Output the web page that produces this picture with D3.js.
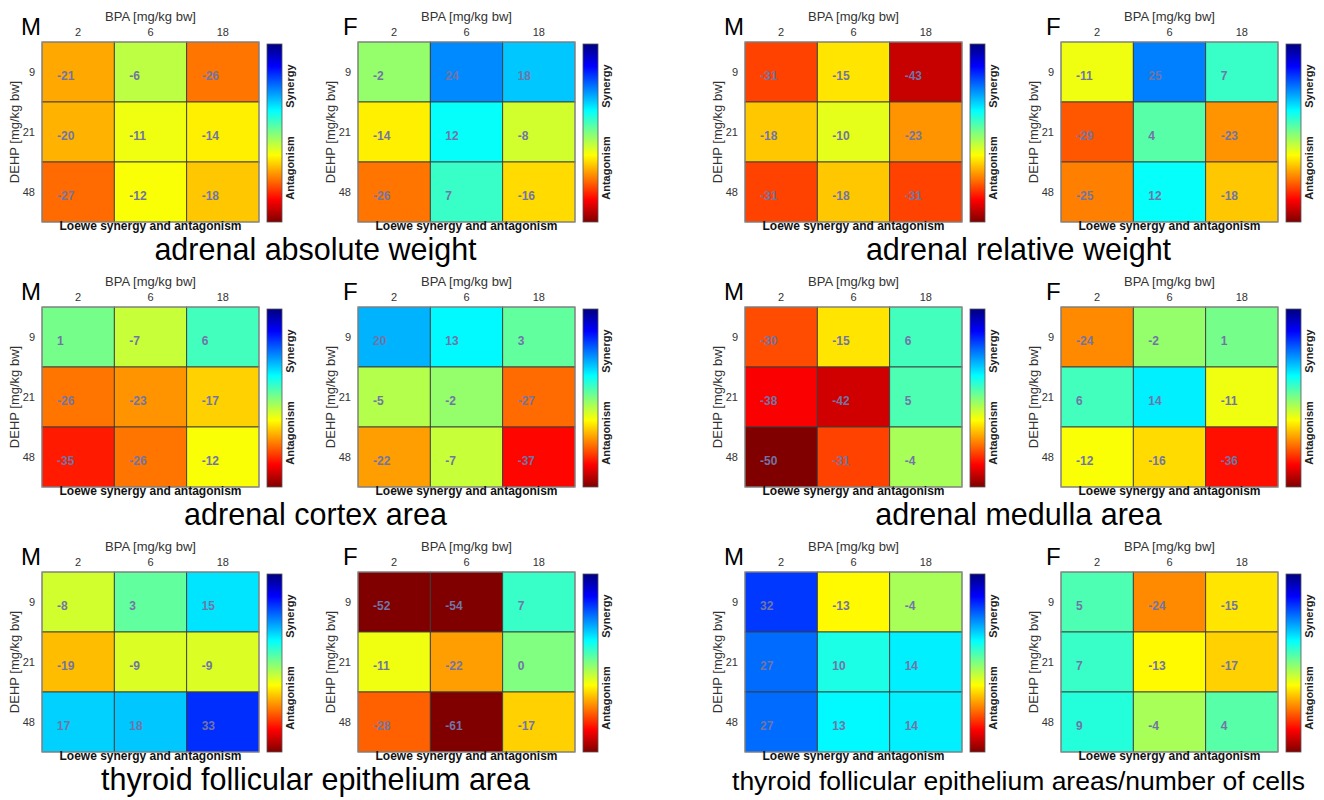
<!DOCTYPE html>
<html><head><meta charset="utf-8">
<script src="https://cdn.jsdelivr.net/npm/d3@7"></script>
<style>
body{margin:0;background:#fff}
svg{display:block;font-family:"Liberation Sans",Arial,Helvetica,sans-serif}
</style>
</head><body><svg id="c" width="1324" height="800"></svg>
<script>
// ---------- data ----------
const bpaDoses = ["2", "6", "18"];        // columns, BPA [mg/kg bw]
const dehpDoses = ["9", "21", "48"];      // rows, DEHP [mg/kg bw]
const sexes = ["M", "F"];
const panelTitles = [
  "adrenal absolute weight",
  "adrenal relative weight",
  "adrenal cortex area",
  "adrenal medulla area",
  "thyroid follicular epithelium area",
  "thyroid follicular epithelium areas/number of cells"
];
const adrenalAbsM = [[-21, -6, -26], [-20, -11, -14], [-27, -12, -18]];
const adrenalAbsF = [[-2, 24, 18], [-14, 12, -8], [-26, 7, -16]];
const adrenalRelM = [[-31, -15, -43], [-18, -10, -23], [-31, -18, -31]];
const adrenalRelF = [[-11, 25, 7], [-29, 4, -23], [-25, 12, -18]];
const cortexM = [[1, -7, 6], [-26, -23, -17], [-35, -26, -12]];
const cortexF = [[20, 13, 3], [-5, -2, -27], [-22, -7, -37]];
const medullaM = [[-30, -15, 6], [-38, -42, 5], [-50, -31, -4]];
const medullaF = [[-24, -2, 1], [6, 14, -11], [-12, -16, -36]];
const thyroidAreaM = [[-8, 3, 15], [-19, -9, -9], [17, 18, 33]];
const thyroidAreaF = [[-52, -54, 7], [-11, -22, 0], [-28, -61, -17]];
const thyroidCellsM = [[32, -13, -4], [27, 10, 14], [27, 13, 14]];
const thyroidCellsF = [[5, -24, -15], [7, -13, -17], [9, -4, 4]];
const colorDomain = [50, -50]; // synergy (blue) .. antagonism (dark red)

const panelValues = [
  [adrenalAbsM, adrenalAbsF],
  [adrenalRelM, adrenalRelF],
  [cortexM, cortexF],
  [medullaM, medullaF],
  [thyroidAreaM, thyroidAreaF],
  [thyroidCellsM, thyroidCellsF]
];

// ---------- layout ----------
const pairLeft = [42, 745];
const rowTop = [42, 307, 572];
const fOffset = 316;
const W = 217, H = 180;

function clamp01(x) { return Math.max(0, Math.min(1, x)); }
function jet(u) {
  const r = clamp01(Math.min(4 * u - 1.5, -4 * u + 4.5));
  const g = clamp01(Math.min(4 * u - 0.5, -4 * u + 3.5));
  const b = clamp01(Math.min(4 * u + 0.5, -4 * u + 2.5));
  return d3.rgb(r * 255, g * 255, b * 255).formatHex();
}
const uScale = d3.scaleLinear().domain(colorDomain).range([0, 1]).clamp(true);
const color = v => jet(uScale(v));

const svg = d3.select("#c");
const defs = svg.append("defs");
const grad = defs.append("linearGradient").attr("id", "jetbar")
  .attr("x1", 0).attr("y1", 0).attr("x2", 0).attr("y2", 1);
d3.range(0, 1.0001, 1 / 64).forEach(t => {
  grad.append("stop").attr("offset", t).attr("stop-color", jet(t));
});

function drawHeatmap(g, values, sex) {
  const x = d3.scaleBand().domain(bpaDoses).range([0, W]);
  const y = d3.scaleBand().domain(dehpDoses).range([0, H]);

  const cells = [];
  values.forEach((row, i) => row.forEach((v, j) => cells.push({ r: dehpDoses[i], c: bpaDoses[j], v })));

  g.selectAll("rect.cell").data(cells).join("rect")
    .attr("class", "cell")
    .attr("x", d => x(d.c)).attr("y", d => y(d.r))
    .attr("width", x.bandwidth()).attr("height", y.bandwidth())
    .attr("fill", d => color(d.v))
    .attr("stroke", "#3c3c3c").attr("stroke-width", 0.9);

  g.append("rect").attr("x", 0).attr("y", 0).attr("width", W).attr("height", H)
    .attr("fill", "none").attr("stroke", "#9a9a9a").attr("stroke-width", 1);

  g.selectAll("text.val").data(cells).join("text")
    .attr("class", "val")
    .attr("x", d => x(d.c) + 15)
    .attr("y", d => y(d.r) + y.bandwidth() / 2 + 8)
    .attr("font-size", 12).attr("font-weight", "bold")
    .attr("fill", "#7175a6")
    .text(d => d.v);

  // column ticks (top)
  g.selectAll("text.ct").data(bpaDoses).join("text")
    .attr("class", "ct")
    .attr("x", d => x(d) + x.bandwidth() / 2).attr("y", -6)
    .attr("text-anchor", "middle").attr("font-size", 11).attr("fill", "#333")
    .text(d => d);
  // row ticks
  g.selectAll("text.rt").data(dehpDoses).join("text")
    .attr("class", "rt")
    .attr("x", -7).attr("y", d => y(d) + y.bandwidth() / 2)
    .attr("dominant-baseline", "central")
    .attr("text-anchor", "end").attr("font-size", 11).attr("fill", "#333")
    .text(d => d);

  g.append("text").attr("x", W / 2).attr("y", -21)
    .attr("text-anchor", "middle").attr("font-size", 13).attr("fill", "#333")
    .text("BPA [mg/kg bw]");
  g.append("text").attr("transform", `translate(-28,${H / 2}) rotate(-90)`)
    .attr("text-anchor", "middle").attr("dominant-baseline", "central")
    .attr("font-size", 13).attr("fill", "#333")
    .text("DEHP [mg/kg bw]");
  g.append("text").attr("x", W / 2).attr("y", H + 8)
    .attr("text-anchor", "middle").attr("font-size", 12).attr("font-weight", "bold")
    .attr("fill", "#111")
    .text("Loewe synergy and antagonism");

  g.append("text").attr("x", sex === "M" ? -21 : -15).attr("y", -7)
    .attr("font-size", 24).attr("fill", "#000").text(sex);

  // colorbar
  g.append("rect").attr("x", W + 8).attr("y", 2).attr("width", 15).attr("height", H - 2)
    .attr("fill", "url(#jetbar)").attr("stroke", "#555").attr("stroke-width", 0.8);
  g.append("text").attr("transform", `translate(${W + 31},${H * 0.245}) rotate(-90)`)
    .attr("text-anchor", "middle").attr("dominant-baseline", "central")
    .attr("font-size", 11).attr("font-weight", "bold").attr("fill", "#222")
    .text("Synergy");
  g.append("text").attr("transform", `translate(${W + 31},${H * 0.70}) rotate(-90)`)
    .attr("text-anchor", "middle").attr("dominant-baseline", "central")
    .attr("font-size", 11).attr("font-weight", "bold").attr("fill", "#222")
    .text("Antagonism");
}

panelValues.forEach((pair, p) => {
  const row = Math.floor(p / 2), col = p % 2;
  const left = pairLeft[col], top = rowTop[row];
  pair.forEach((vals, s) => {
    const g = svg.append("g").attr("transform", `translate(${left + s * fOffset},${top})`);
    drawHeatmap(g, vals, sexes[s]);
  });
  svg.append("text")
    .attr("x", left + 273.5).attr("y", top + 218)
    .attr("text-anchor", "middle")
    .attr("font-size", p === 5 ? 26.5 : 30.5)
    .attr("fill", "#000")
    .text(panelTitles[p]);
});
</script>
</body></html>
